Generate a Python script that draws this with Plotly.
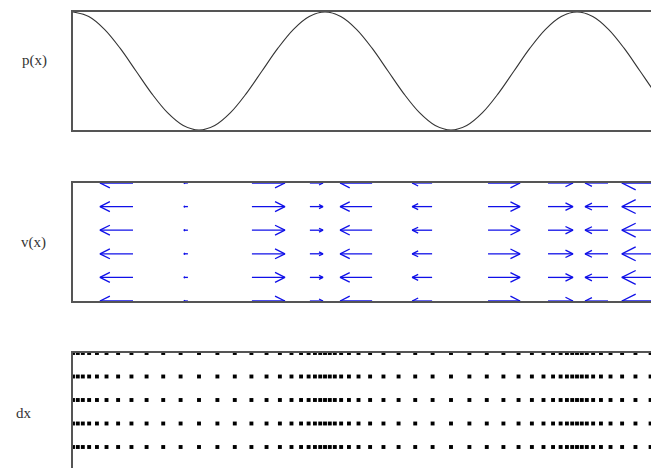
import plotly.graph_objects as go

# ---------------- data (x in wavelengths) ----------------
panel_labels = ["p(x)", "v(x)", "dx"]

# pressure curve samples
p_x = [0.0, 0.0625, 0.125, 0.1875, 0.25, 0.3125, 0.375, 0.4375, 0.5, 0.5625,
       0.625, 0.6875, 0.75, 0.8125, 0.875, 0.9375, 1.0, 1.0625, 1.125, 1.1875,
       1.25, 1.3125, 1.375, 1.4375, 1.5, 1.5625, 1.625, 1.6875, 1.75, 1.8125,
       1.875, 1.9375, 2.0, 2.0625, 2.125, 2.1875, 2.25, 2.3125, 2.375, 2.4375,
       2.5, 2.5625, 2.625]
p_vals = [1.0, 0.924, 0.707, 0.383, 0.0, -0.383, -0.707, -0.924, -1.0, -0.924,
          -0.707, -0.383, 0.0, 0.383, 0.707, 0.924, 1.0, 0.924, 0.707, 0.383,
          0.0, -0.383, -0.707, -0.924, -1.0, -0.924, -0.707, -0.383, 0.0, 0.383,
          0.707, 0.924, 1.0, 0.924, 0.707, 0.383, 0.0, -0.383, -0.707, -0.924,
          -1.0, -0.924, -0.707]

# velocity arrows (base positions and horizontal components)
v_base = [0.238, 0.456, 0.710, 0.940, 1.187, 1.425, 1.647, 1.885, 2.123, 2.361]
v_u = [-0.131, -0.016, 0.131, 0.052, -0.127, -0.079, 0.127, 0.099, -0.091, -0.183]
v_rows = [0, 1, 2, 3, 4, 5]

# particle positions (displacement picture)
dot_x = [0.0, 0.019, 0.039, 0.064, 0.095, 0.133, 0.179, 0.232, 0.292, 0.358, 0.427,
         0.5, 0.573, 0.642, 0.708, 0.768, 0.821, 0.867, 0.905, 0.935, 0.960, 0.981,
         1.0, 1.019, 1.039, 1.064, 1.095, 1.133, 1.179, 1.232, 1.292, 1.358, 1.427,
         1.5, 1.573, 1.642, 1.708, 1.768, 1.821, 1.867, 1.905, 1.935, 1.960, 1.981,
         2.0, 2.019, 2.039, 2.064, 2.095, 2.133, 2.179, 2.232, 2.292, 2.358, 2.427]
dot_rows = [0, 1, 2, 3, 4, 5]

# ---------------- figure ----------------
# page body has an 8px margin, so the figure is offset by 8px in the window;
# the panels run past the right and bottom edges of the window (cropped view)
OFF = 8
REF_H = 468
PX_PER_LAMBDA = 252.0
W, H = 720, REF_H - OFF
ML, MT = 73 - OFF, 12 - OFF
plot_w = W - ML
plot_h = H - MT
x_max = plot_w / PX_PER_LAMBDA
px_per_x = PX_PER_LAMBDA
px_per_row = 118 / 5.0

fig = go.Figure()

fig.add_trace(go.Scatter(x=p_x, y=p_vals, mode="lines", line=dict(color="#333333", width=1.1, shape="spline"),
                         xaxis="x", yaxis="y", hoverinfo="skip"))

ax, ay = [], []
for r in v_rows:
    for b, u in zip(v_base, v_u):
        tip = b + u
        hl = 0.3 * abs(u)
        hw = 0.15 * abs(u) * px_per_x / px_per_row
        back = tip - hl if u > 0 else tip + hl
        ax += [b, tip, None, back, tip, back, None]
        ay += [r, r, None, r + hw, r, r - hw, None]
fig.add_trace(go.Scatter(x=ax, y=ay, mode="lines", line=dict(color="#1010e8", width=1.3),
                         xaxis="x2", yaxis="y2", hoverinfo="skip"))

dx_x, dx_y = [], []
for r in dot_rows:
    for d in dot_x:
        dx_x.append(d)
        dx_y.append(r)
fig.add_trace(go.Scatter(x=dx_x, y=dx_y, mode="markers", cliponaxis=False,
                         marker=dict(symbol="square", size=3.9, color="black", line=dict(width=0)),
                         xaxis="x3", yaxis="y3", hoverinfo="skip"))

def pdom(top_px, bot_px):
    # positions given in reference (window) pixels
    return [(REF_H - bot_px) / plot_h, (REF_H - top_px) / plot_h]

line_c = "#555555"
common = dict(showticklabels=False, ticks="", showgrid=False, zeroline=False, linecolor=line_c, linewidth=1.5)

d1 = pdom(12, 130)
d2 = pdom(183, 301)
d3 = pdom(353, 468)
bottom_lo = 5 - (468 - 353) / 23.5

fig.update_layout(
    width=W, height=H,
    margin=dict(l=ML, r=0, t=MT, b=0, pad=0),
    paper_bgcolor="white", plot_bgcolor="white",
    showlegend=False,
    xaxis=dict(domain=[0, 1], range=[0, x_max], anchor="y", showline=True, mirror=True, **common),
    yaxis=dict(domain=d1, range=[-1, 1], anchor="x", showline=True, mirror=False, **common),
    xaxis2=dict(domain=[0, 1], range=[0, x_max], anchor="y2", showline=True, mirror=True, **common),
    yaxis2=dict(domain=d2, range=[0, 5], anchor="x2", showline=True, mirror=False, **common),
    xaxis3=dict(domain=[0, 1], range=[0, x_max], anchor="y3", side="top", showline=True, mirror=False, **common),
    yaxis3=dict(domain=d3, range=[bottom_lo, 5], anchor="x3", showline=True, mirror=False, **common),
)

label_pos = [(34, "y domain", 0.59), (33, "y2 domain", 0.5), (24, "y3 domain", 0.48)]
for text, (cx, yref, yy) in zip(panel_labels, label_pos):
    fig.add_annotation(text=text, xref="paper", x=(cx - 73) / plot_w, yref=yref, y=yy,
                       xanchor="center", yanchor="middle", showarrow=False,
                       font=dict(family="Liberation Serif, Times New Roman, serif", size=15, color="#333333"))

fig.write_html("out.html",
               post_script="document.documentElement.style.overflow='hidden';document.body.style.overflow='hidden';")
